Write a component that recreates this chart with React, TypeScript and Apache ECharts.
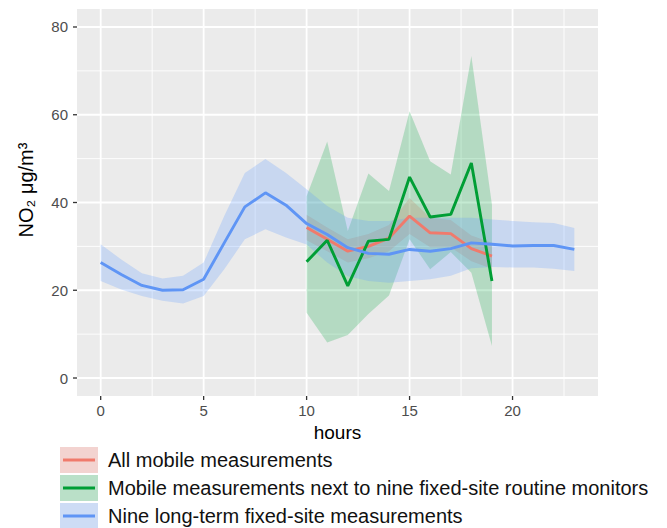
import React, { useEffect, useRef } from "react";
import * as echarts from "echarts";

// ---------- data ----------
const hours = [0, 1, 2, 3, 4, 5, 6, 7, 8, 9, 10, 11, 12, 13, 14, 15, 16, 17, 18, 19, 20, 21, 22, 23];
const fixedMean = [26.3, 23.6, 21.1, 20.0, 20.1, 22.5, 30.8, 39.0, 42.2, 39.4, 35.2, 32.7, 29.7, 28.4, 28.2, 29.3, 28.9, 29.5, 30.8, 30.5, 30.1, 30.2, 30.2, 29.3];
const fixedUpper = [30.5, 27.0, 23.9, 22.7, 23.3, 26.3, 36.9, 46.7, 49.9, 46.7, 43.0, 39.2, 36.5, 35.8, 35.8, 36.5, 36.5, 36.5, 36.5, 36.1, 35.8, 35.5, 35.3, 34.2];
const fixedLower = [22.1, 20.2, 18.7, 17.6, 17.0, 18.7, 24.8, 31.6, 33.9, 32.0, 30.4, 26.3, 23.2, 22.1, 21.7, 22.1, 22.5, 23.3, 25.0, 25.3, 25.2, 25.2, 24.9, 24.4];

const mobileHours = [10, 11, 12, 13, 14, 15, 16, 17, 18, 19];
const allMobileMean = [34.3, 31.6, 28.9, 30.0, 31.9, 36.9, 33.1, 32.9, 29.5, 27.8];
const allMobileUpper = [37.2, 34.3, 31.6, 32.8, 34.9, 41.0, 36.5, 36.0, 32.5, 30.8];
const allMobileLower = [31.4, 28.9, 26.3, 27.3, 28.9, 32.8, 29.8, 29.8, 26.6, 24.9];

const nextMean = [26.5, 31.4, 21.0, 31.2, 31.6, 45.8, 36.7, 37.3, 49.0, 22.1];
const nextUpper = [41.4, 53.9, 33.5, 46.6, 42.6, 60.8, 49.4, 46.4, 73.4, 39.5];
const nextLower = [14.9, 8.1, 9.8, 14.6, 18.8, 31.6, 24.8, 28.7, 24.0, 7.3];

const xMajor = [0, 5, 10, 15, 20];
const xMinor = [2.5, 7.5, 12.5, 17.5, 22.5];
const yMajor = [0, 20, 40, 60, 80];
const yMinor = [10, 30, 50, 70];

const seriesNames = [
  "All mobile measurements",
  "Mobile measurements next to nine fixed-site routine monitors",
  "Nine long-term fixed-site measurements",
];
const lineColors = ["#F07A6C", "#009E35", "#5F95F5"];
const bandColors = ["rgba(248,118,109,0.25)", "rgba(0,165,60,0.23)", "rgba(97,156,255,0.25)"];

const FONT = "Liberation Sans, Arial, sans-serif";

function bandSeries(xs: number[], lo: number[], hi: number[], color: string, z: number) {
  return {
    type: "custom",
    z,
    silent: true,
    data: xs.map((x, i) => [x, lo[i], hi[i]]),
    encode: { x: 0, y: [1, 2] },
    renderItem: (params: any, api: any) => {
      if (params.dataIndex !== 0) return null;
      const top = xs.map((x, i) => api.coord([x, hi[i]]));
      const bottom = xs.map((x, i) => api.coord([x, lo[i]])).reverse();
      return {
        type: "polygon",
        shape: { points: top.concat(bottom) },
        style: { fill: color },
      };
    },
  };
}

function gridLines(values: number[], vertical: boolean, width: number) {
  return {
    type: "custom",
    z: 1,
    silent: true,
    data: values.map((v) => (vertical ? [v, 0] : [0, v])),
    encode: { x: 0, y: 1 },
    renderItem: (params: any, api: any) => {
      const cs = params.coordSys;
      const p = api.coord([api.value(0), api.value(1)]);
      const shape = vertical
        ? { x1: p[0], y1: cs.y, x2: p[0], y2: cs.y + cs.height }
        : { x1: cs.x, y1: p[1], x2: cs.x + cs.width, y2: p[1] };
      return { type: "line", shape, style: { stroke: "#FFFFFF", lineWidth: width } };
    },
  };
}

function tickMarks(values: number[], vertical: boolean) {
  return {
    type: "custom",
    z: 1,
    silent: true,
    clip: false,
    data: values.map((v) => (vertical ? [v, 0] : [0, v])),
    encode: { x: 0, y: 1 },
    renderItem: (params: any, api: any) => {
      const cs = params.coordSys;
      const p = api.coord([api.value(0), api.value(1)]);
      const shape = vertical
        ? { x1: p[0], y1: cs.y + cs.height, x2: p[0], y2: cs.y + cs.height + 4 }
        : { x1: cs.x - 4, y1: p[1], x2: cs.x, y2: p[1] };
      return { type: "line", shape, style: { stroke: "#333333", lineWidth: 1.3 } };
    },
  };
}

function lineSeries(name: string, xs: number[], ys: number[], color: string, z: number) {
  return {
    type: "line",
    name,
    z,
    silent: true,
    symbol: "none",
    data: xs.map((x, i) => [x, ys[i]]),
    lineStyle: { color, width: 2.9 },
  };
}

export default function App() {
  const ref = useRef<HTMLDivElement>(null);

  useEffect(() => {
    if (!ref.current) return;
    const chart = echarts.init(ref.current, undefined, { renderer: "svg" });

    const legendKeyX = 60;
    const legendTop = 447;
    const keyPitch = 28;
    const legendGraphics: any[] = [];
    seriesNames.forEach((name, i) => {
      const y = legendTop + i * keyPitch;
      legendGraphics.push(
        { type: "rect", shape: { x: legendKeyX, y, width: 38, height: 26 }, style: { fill: "#F2F2F2" } },
        { type: "rect", shape: { x: legendKeyX, y, width: 38, height: 26 }, style: { fill: bandColors[i] } },
        {
          type: "line",
          shape: { x1: legendKeyX + 3, y1: y + 13, x2: legendKeyX + 35, y2: y + 13 },
          style: { stroke: lineColors[i], lineWidth: 3 },
        },
        {
          type: "text",
          x: 108,
          y: y + 13,
          style: {
            text: name,
            fontSize: 20,
            fontFamily: FONT,
            fill: "#111111",
            textVerticalAlign: "middle",
            verticalAlign: "middle",
          },
        }
      );
    });

    chart.setOption({
      animation: false,
      grid: {
        left: 77,
        right: 69,
        top: 9,
        bottom: 132,
        show: true,
        backgroundColor: "#EBEBEB",
        borderWidth: 0,
      },
      xAxis: {
        type: "value",
        min: -1.15,
        max: 24.15,
        name: "hours",
        nameLocation: "middle",
        nameGap: 23,
        nameTextStyle: { fontSize: 19, color: "#000000", fontFamily: FONT },
        axisLine: { show: false },
        axisTick: { show: false },
        axisLabel: { customValues: xMajor, color: "#4D4D4D", fontSize: 15, fontFamily: FONT, margin: 7 },
        splitLine: { show: false },
      },
      yAxis: {
        type: "value",
        min: -4.1,
        max: 84.1,
        axisLine: { show: false },
        axisTick: { show: false },
        axisLabel: { customValues: yMajor, color: "#4D4D4D", fontSize: 15, fontFamily: FONT, margin: 9 },
        splitLine: { show: false },
      },
      graphic: [
        {
          type: "text",
          x: 26,
          y: 190,
          rotation: Math.PI / 2,
          style: {
            text: "NO₂ μg/m³",
            fontSize: 20,
            fontFamily: FONT,
            fill: "#000000",
            textAlign: "center",
            textVerticalAlign: "middle",
            align: "center",
            verticalAlign: "middle",
          },
        },
        ...legendGraphics,
      ],
      series: [
        gridLines(xMinor, true, 0.9),
        gridLines(yMinor, false, 0.9),
        gridLines(xMajor, true, 1.8),
        gridLines(yMajor, false, 1.8),
        tickMarks(xMajor, true),
        tickMarks(yMajor, false),
        bandSeries(mobileHours, allMobileLower, allMobileUpper, bandColors[0], 2),
        bandSeries(mobileHours, nextLower, nextUpper, bandColors[1], 2),
        bandSeries(hours, fixedLower, fixedUpper, bandColors[2], 2),
        lineSeries(seriesNames[0], mobileHours, allMobileMean, lineColors[0], 3),
        lineSeries(seriesNames[1], mobileHours, nextMean, lineColors[1], 3),
        lineSeries(seriesNames[2], hours, fixedMean, lineColors[2], 3),
      ],
    });

    return () => chart.dispose();
  }, []);

  return (
    <div
      ref={ref}
      style={{ position: "absolute", left: 0, top: 0, width: 667, height: 528 }}
    />
  );
}
